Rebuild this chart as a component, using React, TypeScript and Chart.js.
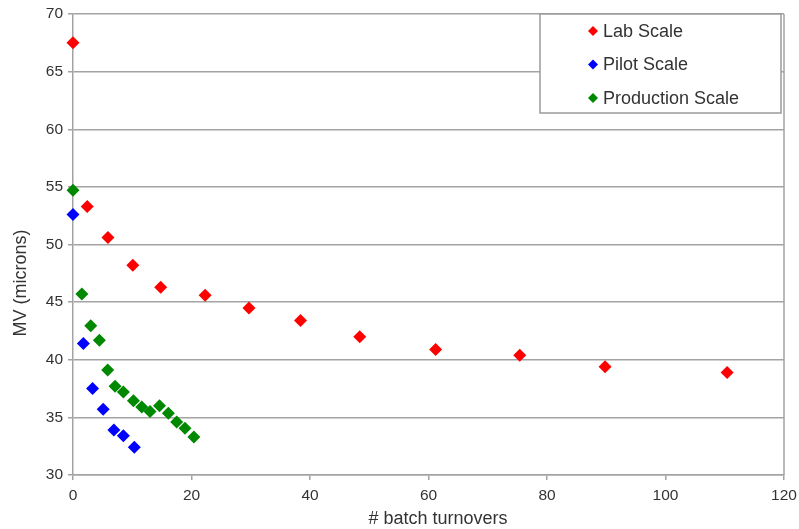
import React, { useEffect, useRef } from 'react';
import { Chart, registerables } from 'chart.js';

Chart.register(...registerables);

const seriesLabels = ['Lab Scale', 'Pilot Scale', 'Production Scale'];
const seriesColors = ['#ff0000', '#0000ff', '#008800'];

const labX = [0, 2.4, 5.9, 10.1, 14.8, 22.3, 29.7, 38.4, 48.4, 61.2, 75.4, 89.8, 110.4];
const labY = [67.5, 53.3, 50.6, 48.2, 46.3, 45.6, 44.5, 43.4, 42.0, 40.9, 40.4, 39.4, 38.9];

const pilotX = [0, 1.75, 3.3, 5.1, 6.9, 8.5, 10.35];
const pilotY = [52.6, 41.4, 37.5, 35.7, 33.9, 33.4, 32.4];

const prodX = [0, 1.5, 3.0, 4.45, 5.85, 7.1, 8.5, 10.2, 11.6, 13.0, 14.6, 16.1, 17.5, 18.9, 20.4];
const prodY = [54.7, 45.7, 42.95, 41.7, 39.1, 37.7, 37.2, 36.45, 35.9, 35.5, 36.0, 35.35, 34.6, 34.05, 33.3];

const xTitle = '# batch turnovers';
const yTitle = 'MV (microns)';

const FONT = "'Liberation Sans', Arial, sans-serif";
const GRID = '#a3a3a3';
const TEXT = '#333333';

const toPoints = (xs: number[], ys: number[]) => xs.map((x, i) => ({ x, y: ys[i] }));

const frameLegend = {
  id: 'frameLegend',
  beforeDatasetsDraw(chart: any) {
    const { ctx, chartArea } = chart;
    ctx.save();
    ctx.strokeStyle = GRID;
    ctx.lineWidth = 1.5;
    ctx.beginPath();
    ctx.moveTo(chartArea.right, chartArea.top);
    ctx.lineTo(chartArea.right, chartArea.bottom);
    ctx.stroke();
    ctx.restore();
  },
  afterDraw(chart: any) {
    const { ctx, chartArea } = chart;
    ctx.save();
    // axis titles
    ctx.fillStyle = TEXT;
    ctx.font = `18px ${FONT}`;
    ctx.textAlign = 'center';
    ctx.textBaseline = 'middle';
    ctx.fillText(xTitle, chartArea.left + 365, chartArea.bottom + 44);
    ctx.save();
    ctx.translate(21, chartArea.top + 269);
    ctx.rotate(-Math.PI / 2);
    ctx.fillText(yTitle, 0, 0);
    ctx.restore();

    // legend
    const w = 241;
    const h = 99;
    const bx = chartArea.right - 3 - w;
    const by = chartArea.top;
    ctx.fillStyle = '#ffffff';
    ctx.fillRect(bx, by, w, h);
    ctx.strokeStyle = '#9a9a9a';
    ctx.lineWidth = 1.5;
    ctx.strokeRect(bx, by, w, h);
    ctx.font = `18px ${FONT}`;
    ctx.textBaseline = 'middle';
    ctx.textAlign = 'left';
    chart.data.datasets.forEach((ds: any, i: number) => {
      const cy = by + 17 + i * 33.5;
      const mx = bx + 53;
      const r = 5;
      ctx.fillStyle = ds.backgroundColor;
      ctx.beginPath();
      ctx.moveTo(mx, cy - r);
      ctx.lineTo(mx + r, cy);
      ctx.lineTo(mx, cy + r);
      ctx.lineTo(mx - r, cy);
      ctx.closePath();
      ctx.fill();
      ctx.fillStyle = TEXT;
      ctx.fillText(ds.label, bx + 63, cy + 1);
    });
    ctx.restore();
  },
};

export default function App() {
  const ref = useRef<HTMLCanvasElement>(null);
  useEffect(() => {
    const allX = [labX, pilotX, prodX];
    const allY = [labY, pilotY, prodY];
    const chart = new Chart(ref.current!, {
      type: 'scatter',
      data: {
        datasets: seriesLabels.map((label, i) => ({
          label,
          data: toPoints(allX[i], allY[i]),
          backgroundColor: seriesColors[i],
          borderColor: seriesColors[i],
          pointStyle: 'rectRot',
          pointRadius: 6.5,
          pointBorderWidth: 0,
          clip: false as any,
        })),
      },
      options: {
        responsive: false,
        animation: false,
        layout: { padding: { left: 0, top: 14, right: 15, bottom: 0 } },
        plugins: { legend: { display: false }, tooltip: { enabled: false } },
        scales: {
          x: {
            type: 'linear',
            min: 0,
            max: 120,
            ticks: { stepSize: 20, color: TEXT, font: { family: FONT, size: 15.5 }, padding: 6, maxRotation: 0 },
            grid: { drawOnChartArea: false, drawTicks: true, tickLength: 5, color: GRID, lineWidth: 1.5 },
            border: { color: GRID, width: 1.5 },
            title: { display: false },
            afterFit: (s: any) => { s.height = 54; s.paddingLeft = 0; s.paddingRight = 0; },
          },
          y: {
            type: 'linear',
            min: 30,
            max: 70,
            ticks: { stepSize: 5, color: TEXT, font: { family: FONT, size: 15.5 }, padding: 5 },
            grid: { drawTicks: true, tickLength: 5, color: GRID, lineWidth: 1.5 },
            border: { color: GRID, width: 1.5 },
            title: { display: false },
            afterFit: (s: any) => { s.width = 73; s.paddingTop = 0; s.paddingBottom = 0; },
          },
        },
      },
      plugins: [frameLegend],
    });
    return () => chart.destroy();
  }, []);
  return (
    <div style={{ position: 'fixed', left: 0, top: 0, width: 799, height: 529, background: '#ffffff' }}>
      <canvas ref={ref} width={799} height={529} style={{ display: 'block' }} />
    </div>
  );
}
